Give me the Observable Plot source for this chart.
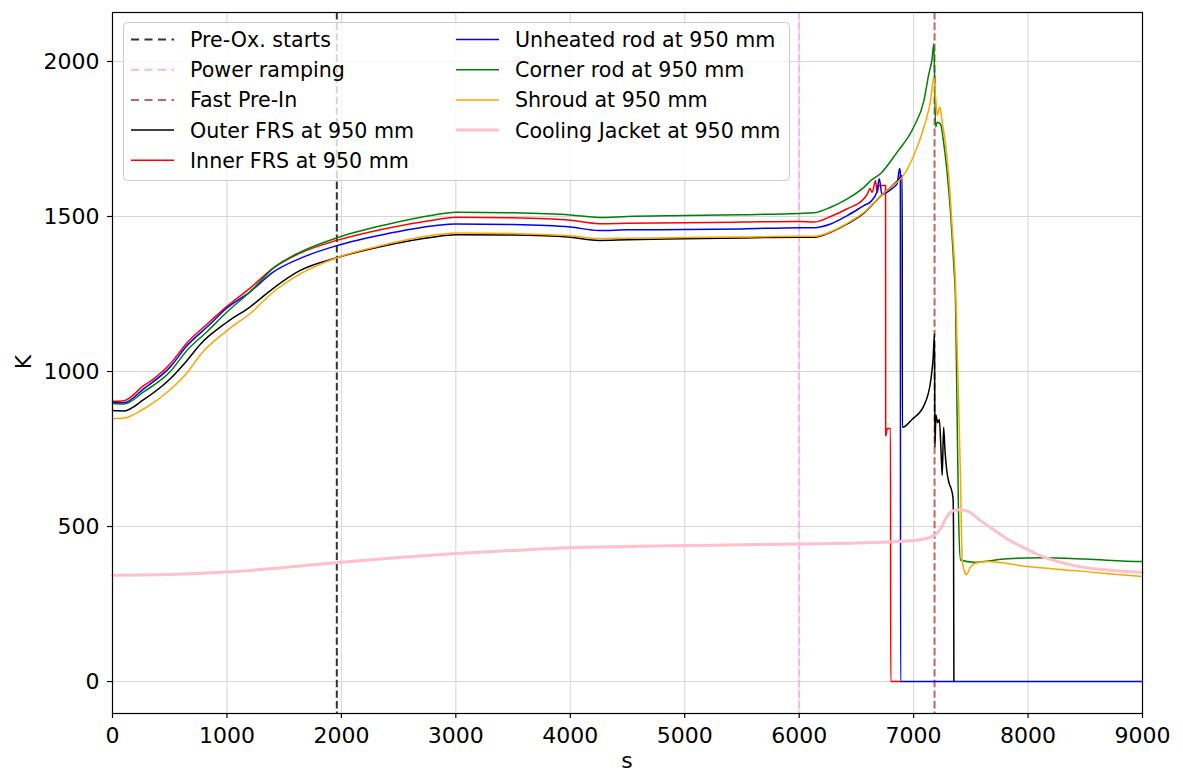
<!DOCTYPE html>
<html><head><meta charset="utf-8">
<script src="https://cdn.jsdelivr.net/npm/d3@7"></script>
<script src="https://cdn.jsdelivr.net/npm/@observablehq/plot@0.6"></script>
<style>body{margin:0;background:#fff;} #chart{width:1183px;height:771px;}</style>
</head><body><div id="chart"></div><script>
// ---- data ----
const xTicks = [0,1000,2000,3000,4000,5000,6000,7000,8000,9000];
const yTicks = [0,500,1000,1500,2000];

const eventNames = ["Pre-Ox. starts","Power ramping","Fast Pre-In"];
const eventTimes = [1960, 6000, 7183];
const eventColors = ["#333333","#f2b6f2","#c06464"];

const seriesNames = ["Outer FRS at 950 mm","Inner FRS at 950 mm","Unheated rod at 950 mm","Corner rod at 950 mm","Shroud at 950 mm","Cooling Jacket at 950 mm"];
const seriesColors = ["black","red","blue","green","orange","pink"];

const outerT = [0,100,275,500,650,770,1000,1200,1410,1640,1960,2370,2810,3000,3500,4000,4250,4500,5000,5500,6000,6130,6275,6420,6565,6710,6800,6860,6900,6902,6990,7090,7150,7170,7183,7186,7195,7210,7225,7240,7250,7262,7275,7290,7310,7330,7345,7349,7352];
const outerK = [874,873,910,975,1035,1089,1159,1208,1270,1326,1367,1405,1434,1441,1440,1433,1423,1425,1428,1431,1433,1433,1449,1476,1511,1565,1595,1615,1632,820,847,890,971,1040,1122,756,860,835,845,740,665,820,740,680,640,620,590,465,0];

const innerT = [0,100,275,360,505,650,830,1000,1205,1410,1640,1960,2370,2810,3000,3500,4000,4250,4500,5000,5500,6000,6130,6275,6420,6565,6595,6618,6638,6667,6682,6696,6755,6756,6770,6798,6800,6886];
const innerK = [904,906,955,976,1025,1092,1154,1210,1270,1335,1382,1423,1460,1489,1498,1496,1488,1477,1478,1480,1482,1484,1482,1500,1525,1557,1572,1590,1578,1616,1578,1600,1600,793,816,816,0,0];

const unheatedT = [0,100,275,505,650,830,1000,1205,1410,1640,1960,2370,2810,3000,3500,4000,4250,4500,5000,5500,6000,6130,6275,6420,6565,6625,6680,6700,6723,6767,6810,6855,6878,6884,6886,9000];
const unheatedK = [901,899,945,1015,1083,1145,1205,1258,1322,1365,1406,1442,1470,1476,1474,1466,1455,1457,1458,1460,1464,1464,1476,1503,1535,1548,1580,1622,1572,1578,1590,1605,1655,1640,0,0];

const cornerT = [0,100,275,505,650,830,1000,1205,1410,1640,1960,2370,2810,3000,3500,4000,4250,4500,5000,5500,6000,6130,6275,6420,6565,6625,6710,6855,7000,7090,7133,7160,7177,7192,7206,7235,7264,7294,7323,7352,7366,7375,7392,7410,7525,7818,8109,8500,8983,9000];
const cornerK = [897,895,935,1000,1068,1130,1192,1258,1335,1385,1431,1472,1505,1514,1512,1505,1497,1500,1503,1506,1510,1512,1530,1557,1594,1616,1638,1707,1788,1874,1960,2005,2057,1788,1804,1798,1734,1638,1510,1336,1229,1000,550,392,385,396,399,395,387,387];

const shroudT = [0,100,275,505,650,770,1000,1205,1410,1640,1960,2370,2810,3000,3500,4000,4250,4500,5000,5500,6000,6130,6275,6420,6565,6710,6800,6900,7002,7090,7148,7177,7192,7206,7229,7250,7279,7308,7337,7366,7410,7425,7440,7462,7490,7526,7643,7992,8400,8700,9000];
const shroudK = [848,850,880,942,995,1055,1132,1188,1258,1315,1367,1408,1440,1447,1445,1438,1429,1430,1432,1434,1436,1436,1451,1478,1513,1565,1595,1627,1697,1788,1874,1949,1885,1826,1853,1804,1734,1627,1465,1283,648,390,360,345,365,380,387,371,358,348,339];

const jacketT = [0,500,1000,1500,2000,2500,3000,3500,4000,4500,5000,5500,6000,6500,7000,7177,7235,7280,7323,7370,7410,7480,7585,7700,7818,8000,8109,8400,8692,9000];
const jacketK = [343,345,353,368,385,400,413,423,432,436,439,441,444,447,455,471,492,525,546,553,554,548,519,490,460,425,406,374,360,352];

// ---- build tables ----
const seriesT = [outerT, innerT, unheatedT, cornerT, shroudT, jacketT];
const seriesK = [outerK, innerK, unheatedK, cornerK, shroudK, jacketK];
const tables = seriesNames.map((name, i) => seriesT[i].map((t, j) => ({series: name, t, k: seriesK[i][j]})));
const events = eventNames.map((name, i) => ({name, t: eventTimes[i], color: eventColors[i]}));

const W = 1183, H = 771;
const fmt = d3.format("d");
const plot = Plot.plot({
  width: W, height: H,
  marginLeft: 112, marginRight: 41, marginTop: 12, marginBottom: 58,
  x: {domain: [0, 9000]},
  y: {domain: [-103, 2158]},
  style: {fontFamily: "DejaVu Sans", fontSize: "22px", color: "black", background: "white", overflow: "visible"},
  marks: [
    Plot.gridX(xTicks, {stroke: "#d6d6d6", strokeOpacity: 1, strokeWidth: 1}),
    Plot.gridY(yTicks, {stroke: "#d6d6d6", strokeOpacity: 1, strokeWidth: 1}),
    ...events.map(e => Plot.ruleX([e.t], {stroke: e.color, strokeWidth: 2, strokeDasharray: "7.4,3.2"})),
    ...tables.map((tb, i) => Plot.line(tb, {x: "t", y: "k", stroke: seriesColors[i], strokeWidth: i === 5 ? 3 : 1.5, curve: "monotone-x"})),
    Plot.frame({stroke: "black", strokeWidth: 1.2}),
    Plot.axisX(xTicks, {tickSize: 5, tickPadding: 9, tickFormat: fmt, fontSize: 22, label: null, strokeWidth: 1.2}),
    Plot.axisY(yTicks, {tickSize: 5, tickPadding: 8, tickFormat: fmt, fontSize: 22, label: null, strokeWidth: 1.2})
  ]
});
document.getElementById("chart").appendChild(plot);

// ---- axis titles and legend ----
const svg = d3.select(plot);
svg.append("text").attr("x", 627).attr("y", 768).attr("text-anchor", "middle")
  .attr("font-size", 22).attr("font-family", "DejaVu Sans").attr("fill", "black").text("s");
svg.append("text").attr("transform", "translate(31,362) rotate(-90)").attr("text-anchor", "middle")
  .attr("font-size", 22).attr("font-family", "DejaVu Sans").attr("fill", "black").text("K");

const lg = svg.append("g").attr("text-anchor", "start");
lg.append("rect").attr("x", 123.5).attr("y", 22.5).attr("width", 666).attr("height", 158).attr("rx", 4)
  .attr("fill", "white").attr("fill-opacity", 0.8).attr("stroke", "#cccccc").attr("stroke-width", 1);
const items = [
  ...events.map(e => ({label: e.name, color: e.color, dash: true, w: 2})),
  ...seriesNames.map((n, i) => ({label: n, color: seriesColors[i], dash: false, w: i === 5 ? 3 : 1.5}))
];
items.forEach((it, i) => {
  const col = i < 5 ? 0 : 1, row = i < 5 ? i : i - 5;
  const hx = col === 0 ? 131 : 456, tx = col === 0 ? 190 : 515;
  const cy = 39.5 + row * 30.2;
  lg.append("line").attr("x1", hx).attr("x2", hx + 43).attr("y1", cy).attr("y2", cy)
    .attr("stroke", it.color).attr("stroke-width", it.w).attr("stroke-dasharray", it.dash ? "8,5.5" : null);
  lg.append("text").attr("x", tx).attr("y", cy).attr("dy", "0.36em").attr("font-size", 20.6)
    .attr("text-anchor", "start").attr("font-family", "DejaVu Sans").attr("fill", "black").text(it.label);
});
</script></body></html>
